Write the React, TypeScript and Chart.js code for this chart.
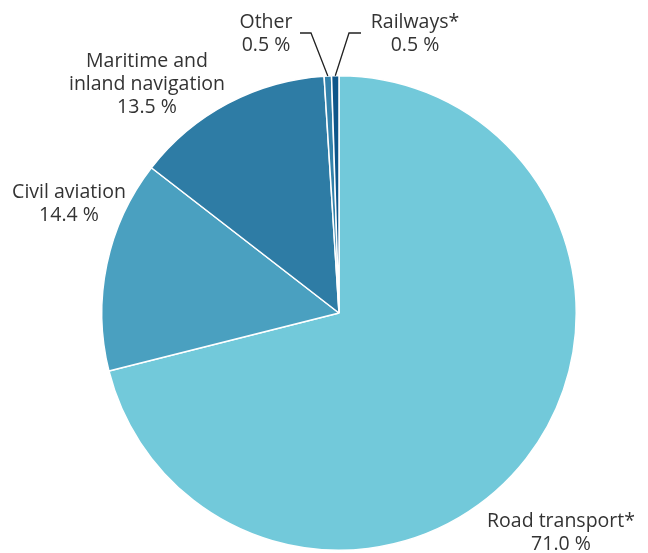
import React, { useEffect, useRef } from "react";
import { Chart, registerables } from "chart.js";

Chart.register(...registerables);

const categories = ["Road transport*", "Civil aviation", "Maritime and inland navigation", "Other", "Railways*"];
const values = [71.0, 14.4, 13.5, 0.5, 0.5];
const colors = ["#72c9da", "#4aa0c0", "#2e7ca5", "#3382ab", "#0e568a"];

// label text lines and placement (text centre x, first line middle y)
const labelLines: string[][] = [
  ["Road transport*", "71.0 %"],
  ["Civil aviation", "14.4 %"],
  ["Maritime and", "inland navigation", "13.5 %"],
  ["Other", "0.5 %"],
  ["Railways*", "0.5 %"],
];
const labelPos: [number, number][] = [
  [561, 521],
  [69, 192],
  [147, 61],
  [266, 22],
  [415, 22],
];

const labelPlugin = {
  id: "pieLabels",
  afterDraw(chart: any) {
    const ctx = chart.ctx;
    const meta = chart.getDatasetMeta(0);
    ctx.save();
    ctx.font = "19.5px 'Open Sans'";
    ctx.fillStyle = "#333333";
    ctx.textAlign = "center";
    ctx.textBaseline = "middle";
    labelLines.forEach((lines, i) => {
      const [x, y] = labelPos[i];
      lines.forEach((t, j) => ctx.fillText(t, x, y + j * 23));
    });
    // leader lines for the two tiny slices
    ctx.strokeStyle = "#222222";
    ctx.lineWidth = 1.3;
    const leader = (idx: number, elbowX: number, endX: number) => {
      const arc = meta.data[idx];
      const mid = (arc.startAngle + arc.endAngle) / 2;
      const r = arc.outerRadius;
      const sx = arc.x + Math.cos(mid) * r;
      const sy = arc.y + Math.sin(mid) * r;
      ctx.beginPath();
      ctx.moveTo(sx, sy);
      ctx.lineTo(elbowX, 33);
      ctx.lineTo(endX, 33);
      ctx.stroke();
    };
    leader(4, 349, 361);
    leader(3, 311, 300);
    ctx.restore();
  },
};

export default function App() {
  const ref = useRef<HTMLCanvasElement>(null);
  useEffect(() => {
    document.body.style.margin = "0";
    const chart = new Chart(ref.current!, {
      type: "pie",
      data: {
        labels: categories,
        datasets: [
          {
            data: values,
            backgroundColor: colors,
            borderColor: "#ffffff",
            borderWidth: 1.5,
          },
        ],
      },
      options: {
        responsive: false,
        animation: false,
        layout: { padding: { top: 75, bottom: 2, left: 101, right: 71 } },
        plugins: { legend: { display: false }, tooltip: { enabled: false } },
      },
      plugins: [labelPlugin],
    });
    return () => chart.destroy();
  }, []);
  return <canvas ref={ref} width={648} height={553} style={{ display: "block" }} />;
}
